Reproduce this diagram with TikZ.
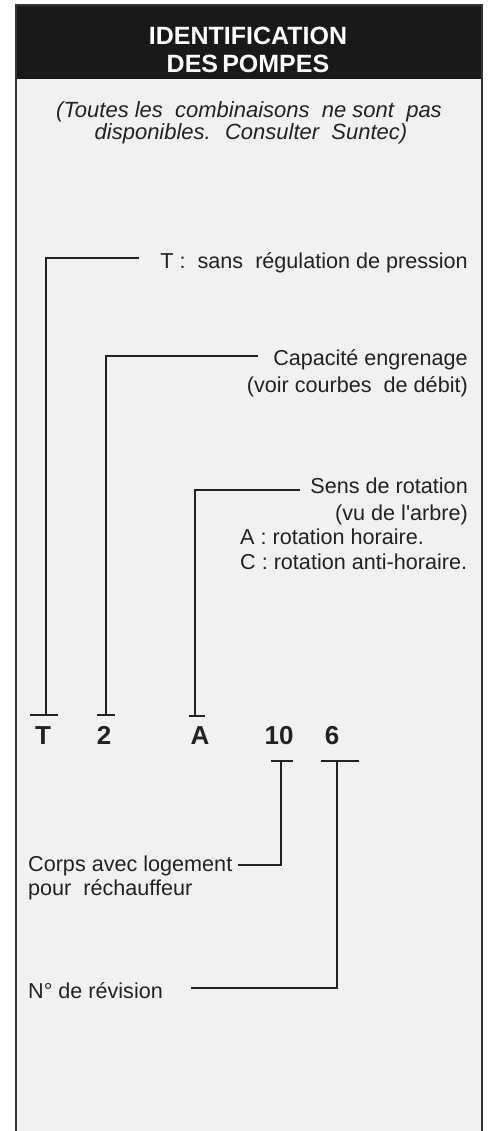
\documentclass[tikz,border=0pt]{standalone}
\usepackage{fontspec}
\setmainfont{Liberation Sans}
\usetikzlibrary{positioning}
\definecolor{panel}{HTML}{F1F1F1}
\definecolor{ink}{HTML}{222222}

\begin{document}
\begin{tikzpicture}[x=1pt,y=-1pt,
lead/.style={line width=1.6pt, draw=ink},
bar/.style={line width=2.3pt, draw=ink},
code/.style={font=\fontsize{26}{30}\selectfont\bfseries, inner sep=0pt, text=ink},
lbl/.style={font=\fontsize{21.6}{26}\selectfont, inner sep=0pt, text=ink},
note/.style={font=\fontsize{22}{26}\selectfont\itshape, inner sep=0pt, text=ink},
head/.style={font=\fontsize{25}{30}\selectfont\bfseries, inner sep=0pt, text=white}
]
  \useasboundingbox (0,0) rectangle (487,1131);
  \fill[white] (0,0) rectangle (487,1131);
  \fill[panel] (16,79) rectangle (482,1131);
  \fill[black!90] (16,5) rectangle (482,79);
  \draw[line width=2pt, draw=black!80] (16,1131) -- (16,5) -- (482,5) -- (482,1131);

  % titre
  \node[head, anchor=base] (h1) at (248,45) {IDENTIFICATION};
  \node[head, anchor=base] (h2) at (248,73) {DES\,POMPES};
  \node[note, anchor=base] (n1) at (249,118) {(Toutes les~ combinaisons~ ne sont~ pas};
  \node[note, anchor=base] (n2) at (251,140) {disponibles.~ Consulter~ Suntec)};

  % code
  \node[code, anchor=base] (cT) at (43,744) {T};
  \node[code, anchor=base] (c2) at (104,744) {2};
  \node[code, anchor=base] (cA) at (200,744) {A};
  \node[code, anchor=base] (c10) at (279,744) {10};
  \node[code, anchor=base] (c6) at (332,744) {6};

  % textes
  \node[lbl, anchor=base east] (lT) at (468,269) {T :~ sans~ régulation de pression};
  \node[lbl, anchor=base east] (lC1) at (468,365) {Capacité engrenage};
  \node[lbl, anchor=base east] (lC2) at (468,392) {(voir courbes~ de débit)};
  \node[lbl, anchor=base east] (lS1) at (468,493) {Sens de rotation};
  \node[lbl, anchor=base east] (lS2) at (468,520) {(vu de l\textquotesingle arbre)};
  \node[lbl, anchor=base west] (lS3) at (240,544) {A : rotation horaire.};
  \node[lbl, anchor=base west] (lS4) at (240,569) {C : rotation anti-horaire.};
  \node[lbl, anchor=base west] (lP1) at (28,871) {Corps avec logement};
  \node[lbl, anchor=base west] (lP2) at (28,895) {pour~ réchauffeur};
  \node[lbl, anchor=base west] (lN) at (28,998) {N° de révision};

  % traits
  \coordinate (tT) at (46,715);
  \coordinate (t2) at (106,715);
  \coordinate (tA) at (195,716);
  \coordinate (t10) at (281,761);
  \coordinate (t6) at (337,761);
  \coordinate (eT) at (139,258);
  \coordinate (e2) at (258,356);
  \coordinate (eA) at (300,490);
  \coordinate (e10) at (238,865);
  \coordinate (e6) at (191,988);

  \draw[lead] (eT) -| (tT);
  \draw[lead] (e2) -| (t2);
  \draw[lead] (eA) -| (tA);
  \draw[lead] (e10) -| (t10);
  \draw[lead] (e6) -| (t6);

  \draw[bar] ([xshift=-16pt]tT) -- ([xshift=12pt]tT);
  \draw[bar] ([xshift=-9pt]t2) -- ([xshift=9pt]t2);
  \draw[bar] ([xshift=-6pt]tA) -- ([xshift=10pt]tA);
  \draw[bar] ([xshift=-10pt]t10) -- ([xshift=12pt]t10);
  \draw[bar] ([xshift=-16pt]t6) -- ([xshift=22pt]t6);
\end{tikzpicture}
\end{document}
